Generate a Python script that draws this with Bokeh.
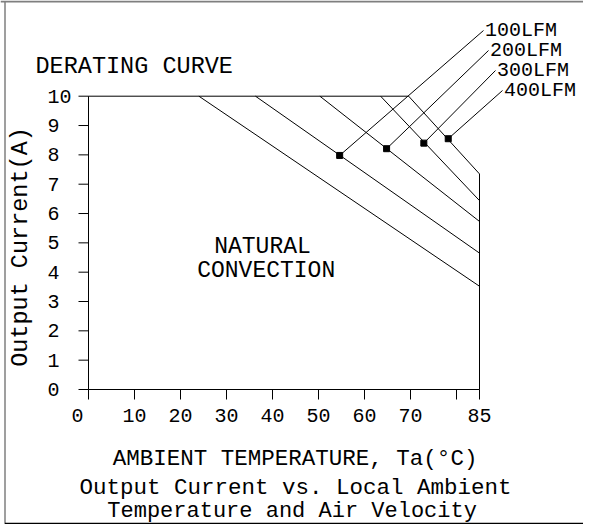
import math
from bokeh.plotting import figure
from bokeh.models import Range1d, ColumnDataSource
from bokeh.embed import file_html
from bokeh.resources import INLINE
from bokeh.core.properties import value

# ---------------- data ----------------
curve_names = ["NATURAL CONVECTION", "100LFM", "200LFM", "300LFM", "400LFM"]
derate_start_temp = [24.0, 36.3, 50.3, 63.5, 69.6]   # degC where current leaves 10 A
current_at_85 = [3.52, 4.65, 5.73, 6.44, 7.35]       # A at 85 degC
max_current = 10.0
max_temp = 85.0

airflow_labels = ["100LFM", "200LFM", "300LFM", "400LFM"]
marker_temp = [54.6, 64.8, 72.9, 78.2]
marker_current = [7.98, 8.21, 8.40, 8.55]

x_ticks = [0, 10, 20, 30, 40, 50, 60, 70, 80, 85]
x_tick_labels = ["0", "10", "20", "30", "40", "50", "60", "70", "", "85"]
y_ticks = [0, 1, 2, 3, 4, 5, 6, 7, 8, 9, 10]
y_tick_labels = ["0", "1", "2", "3", "4", "5", "6", "7", "8", "9", "10"]

title_text = "DERATING CURVE"
region_text = ["NATURAL", "CONVECTION"]
x_title = "AMBIENT TEMPERATURE, Ta(\u00b0C)"
y_title = "Output Current(A)"
caption = ["Output Current vs. Local Ambient", "Temperature and Air Velocity"]

# ---------------- layout ----------------
W, H = 583, 524
ORG = 0.0
X0_PX, X85_PX = 88.0, 479.0     # picture px of 0 degC and 85 degC
Y10_PX, Y0_PX = 95.7, 389.0     # picture px of 10 A and 0 A
SX = (X85_PX - X0_PX) / max_temp
SY = (Y0_PX - Y10_PX) / max_current


def dx(px):
    return (px - X0_PX) / SX


def dy(py):
    return (Y0_PX - py) / SY


FONT = value("Liberation Mono")
TICK = 10.0  # px

p = figure(width=W, height=H, output_backend="svg", toolbar_location=None,
           x_range=Range1d(dx(ORG), dx(ORG + W)),
           y_range=Range1d(dy(ORG + H), dy(ORG)),
           x_axis_type=None, y_axis_type=None, min_border=0,
           outline_line_color=None, title=None,
           background_fill_color="white", border_fill_color="white")

LC = "black"
LW = 1.0

# axes lines
p.segment(x0=[0, 0], y0=[0, 0], x1=[max_temp, 0], y1=[0, max_current],
          line_color=LC, line_width=LW)
# x ticks (downwards)
p.segment(x0=x_ticks, y0=[0] * len(x_ticks), x1=x_ticks,
          y1=[-TICK / SY] * len(x_ticks), line_color=LC, line_width=LW)
# y ticks (leftwards)
p.segment(x0=[0] * len(y_ticks), y0=y_ticks, x1=[-TICK / SX] * len(y_ticks),
          y1=y_ticks, line_color=LC, line_width=LW)

# top flat line at max current, right edge at 85 degC
p.line(x=[0, max(derate_start_temp)], y=[max_current, max_current],
       line_color=LC, line_width=LW)
p.line(x=[max_temp, max_temp], y=[0, current_at_85[-1]],
       line_color=LC, line_width=LW)

# derating curves
curves = ColumnDataSource(dict(
    x0=derate_start_temp, y0=[max_current] * len(derate_start_temp),
    x1=[max_temp] * len(current_at_85), y1=current_at_85, name=curve_names))
p.segment(x0="x0", y0="y0", x1="x1", y1="y1", source=curves,
          line_color=LC, line_width=LW)

# leader lines and airflow labels
anchors_px = [(483.0, 30.0), (488.0, 50.0), (495.0, 70.0), (502.0, 90.0)]
ax = [dx(a[0]) for a in anchors_px]
ay = [dy(a[1]) for a in anchors_px]
p.segment(x0=marker_temp, y0=marker_current, x1=ax, y1=ay,
          line_color=LC, line_width=LW)
p.scatter(x=marker_temp, y=marker_current, marker="square", size=6,
          fill_color=LC, line_color=LC)
p.text(x=[v + 1.5 / SX for v in ax], y=ay, text=airflow_labels,
       text_font=FONT, text_font_size="20px", text_color=LC,
       text_align="left", text_baseline="alphabetic")

# tick labels
x_off = [-11 if t == 0 else 0 for t in x_ticks]
p.text(x=x_ticks, y=[dy(414.5)] * len(x_ticks), text=x_tick_labels,
       x_offset=x_off, text_font=FONT, text_font_size="20px", text_color=LC,
       text_align="center", text_baseline="middle")
p.text(x=[dx(47.0)] * len(y_ticks), y=y_ticks, text=y_tick_labels,
       text_font=FONT, text_font_size="20px", text_color=LC,
       text_align="left", text_baseline="middle")

# titles and notes
p.text(x=[dx(35.0)], y=[dy(66.0)], text=[title_text], text_font=FONT,
       text_font_size="23.5px", text_color=LC, text_align="left",
       text_baseline="middle")
p.text(x=[dx(262.0), dx(265.7)], y=[dy(246.5), dy(270.0)], text=region_text,
       text_font=FONT, text_font_size="23px", text_color=LC,
       text_align="center", text_baseline="middle")
p.text(x=[dx(294.6)], y=[dy(458.5)], text=[x_title], text_font=FONT,
       text_font_size="22.5px", text_color=LC, text_align="center",
       text_baseline="middle")
p.text(x=[dx(295.0)], y=[dy(487.0)], text=[caption[0]],
       text_font=FONT, text_font_size="22.5px", text_color=LC,
       text_align="center", text_baseline="middle")
p.text(x=[dx(291.6)], y=[dy(510.5)], text=[caption[1]],
       text_font=FONT, text_font_size="22px", text_color=LC,
       text_align="center", text_baseline="middle")
p.text(x=[dx(20.0)], y=[dy(246.5)], text=[y_title], angle=math.pi / 2,
       text_font=FONT, text_font_size="23.5px", text_color=LC,
       text_align="center", text_baseline="middle")

# page frame
GRAY = "#7f7f7f"
p.line(x=[dx(4.5), dx(4.5)], y=[dy(1.0), dy(ORG + H)],
       line_color=GRAY, line_width=1.5)
p.line(x=[dx(ORG), dx(ORG + W)], y=[dy(1.0), dy(1.0)],
       line_color=GRAY, line_width=2)
p.line(x=[dx(4.5), dx(ORG + W)], y=[dy(ORG + H - 1.0), dy(ORG + H - 1.0)],
       line_color="black", line_width=1.5)

open("out.html", "w").write(file_html(p, INLINE))
